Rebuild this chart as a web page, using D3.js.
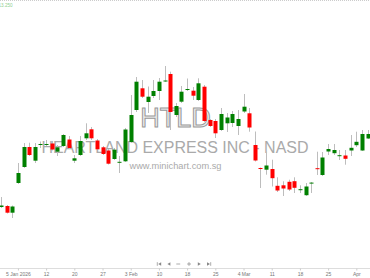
<!DOCTYPE html>
<html>
<head>
<meta charset="utf-8">
<script src="https://cdn.jsdelivr.net/npm/d3@7"></script>
<style>
    body { margin: 0; background: #fff; }
    #chartDiv { width: 370px; height: 278px; }
    .axis text { font-family: "Liberation Sans", Arial, sans-serif; font-size: 5px; fill: #777; }
    .axis line { stroke: #ccc; }
    .axis path { display: none; }
</style>
</head>
<body>
<div id="chartDiv"></div>
<script>

// trading days shown
let dates = ["2025-12-30","2025-12-31","2026-01-02","2026-01-05","2026-01-06","2026-01-07","2026-01-08","2026-01-09",
    "2026-01-12","2026-01-13","2026-01-14","2026-01-15","2026-01-16","2026-01-20","2026-01-21","2026-01-22","2026-01-23",
    "2026-01-26","2026-01-27","2026-01-28","2026-01-29","2026-01-30","2026-02-02","2026-02-03","2026-02-04","2026-02-05",
    "2026-02-06","2026-02-09","2026-02-10","2026-02-11","2026-02-12","2026-02-13","2026-02-17","2026-02-18","2026-02-19",
    "2026-02-20","2026-02-23","2026-02-24","2026-02-25","2026-02-26","2026-02-27","2026-03-02","2026-03-03","2026-03-04",
    "2026-03-05","2026-03-06","2026-03-09","2026-03-10","2026-03-11","2026-03-12","2026-03-13","2026-03-16","2026-03-17",
    "2026-03-18","2026-03-19","2026-03-20","2026-03-23","2026-03-24","2026-03-25","2026-03-26","2026-03-27","2026-03-30",
    "2026-03-31","2026-04-01","2026-04-02","2026-04-06"];

let open = [9.11,9.13,8.996,9.59,9.91,10.31,10.036,10.356,10.35,10.38,10.216,10.33,10.46,10.036,10.15,10.484,10.664,
    10.44,10.304,10.24,10.07,10.00,10.024,10.41,11.05,11.484,11.21,11.33,11.43,11.63,11.77,10.95,11.216,11.454,11.436,
    11.25,11.516,10.85,10.83,10.65,10.784,10.79,10.73,11.02,10.984,10.35,9.89,9.856,9.87,9.534,9.544,9.614,9.626,9.454,
    9.346,9.586,9.886,9.75,10.22,10.186,10.134,10.14,10.24,10.346,10.24,10.48];

let high = [9.31,9.15,9.14,9.99,10.39,10.396,10.39,10.42,10.45,10.43,10.35,10.57,10.53,10.15,10.53,10.784,10.71,
    10.47,10.33,10.27,10.29,10.13,10.69,11.35,11.71,11.65,11.52,11.65,11.69,11.93,11.816,11.19,11.53,11.68,11.51,
    11.684,11.55,10.87,10.87,11.09,10.99,11.03,11.05,11.37,11.09,10.62,9.90,10.22,10.056,9.704,9.624,9.656,9.704,9.544,
    9.59,9.61,10.216,10.21,10.37,10.37,10.25,10.25,10.55,10.616,10.65,10.65];

let low = [9.09,8.98,8.89,9.57,9.89,10.13,9.99,10.29,10.33,10.24,10.13,10.31,10.27,9.99,10.13,10.45,10.45,
    10.25,10.15,9.96,10.05,9.79,10.01,10.39,11.01,11.29,10.99,11.29,11.25,11.61,10.65,10.91,11.19,11.43,11.25,
    11.23,10.81,10.71,10.49,10.63,10.61,10.71,10.55,10.99,10.616,10.02,9.49,9.756,9.52,9.41,9.33,9.43,9.39,9.39,
    9.33,9.39,9.75,9.73,10.15,10.15,10.05,9.956,10.13,10.31,10.23,10.47];

let close = [9.14,8.996,9.12,9.79,10.31,10.15,10.31,10.37,10.37,10.26,10.304,10.55,10.29,10.084,10.43,10.584,10.484,
    10.264,10.17,9.976,10.256,10.014,10.66,10.95,11.616,11.316,11.316,11.43,11.616,11.64,11.01,11.13,11.416,11.47,11.336,
    11.584,10.83,10.73,10.584,10.97,10.90,10.97,10.87,11.116,10.70,10.04,9.874,9.94,9.686,9.44,9.48,9.46,9.494,9.466,
    9.52,9.598,9.874,10.10,10.27,10.25,10.146,10.074,10.294,10.414,10.57,10.57];

// x axis labels, one every 5 trading days
let tickDates = ["2026-01-05","2026-01-12","2026-01-20","2026-01-27","2026-02-03","2026-02-10","2026-02-18",
    "2026-02-25","2026-03-04","2026-03-11","2026-03-18","2026-03-25","2026-04-01"];
let tickLabels = ["5 Jan 2026","12","20","27","3 Feb","10","18","25","4 Mar","11","18","25","Apr"];

let topPrice = 13.25;
let topLabel = "13.250";

class CandleChart {
    constructor(parentElement) {
        this.parentElement = parentElement;
        this.candles = [];
        this.initVis();
    }

    initVis() {
        let vis = this;

        vis.width = 370;
        vis.height = 278;
        vis.axisY = 268.5;

        vis.svg = d3.select("#" + vis.parentElement).append("svg")
            .attr("width", vis.width)
            .attr("height", vis.height)
            .style("display", "block");

        vis.font = '"Liberation Sans", Arial, sans-serif';

        // dotted top border
        vis.svg.append("line")
            .attr("x1", 0).attr("x2", vis.width)
            .attr("y1", 0.5).attr("y2", 0.5)
            .attr("stroke", "#ccc")
            .attr("stroke-dasharray", "1,1");

        // price at top of chart
        vis.svg.append("text")
            .attr("x", -1.5)
            .attr("y", 7)
            .attr("font-family", vis.font)
            .attr("font-size", "4.6px")
            .attr("fill", "#8fcf8f")
            .text(topLabel);

        // Watermark
        vis.mark = vis.svg.append("g")
            .attr("font-family", vis.font)
            .attr("text-anchor", "middle");

        vis.mark.append("text")
            .attr("x", 175.5)
            .attr("y", 126.5)
            .attr("font-size", "27px")
            .attr("fill", "#eee")
            .attr("stroke", "#999")
            .attr("stroke-width", 1)
            .text("HTLD");

        vis.mark.append("text")
            .attr("x", 175)
            .attr("y", 153.3)
            .attr("font-size", "16px")
            .attr("fill", "#aaa")
            .attr("textLength", 267)
            .attr("lengthAdjust", "spacingAndGlyphs")
            .text("HEARTLAND EXPRESS INC - NASD");

        vis.mark.append("text")
            .attr("x", 175.5)
            .attr("y", 168.5)
            .attr("font-size", "9.5px")
            .attr("fill", "#aaa")
            .attr("textLength", 92)
            .attr("lengthAdjust", "spacingAndGlyphs")
            .text("www.minichart.com.sg");

        // Scales
        vis.x = d3.scalePoint()
            .domain(dates)
            .range([1, 367.6]);

        vis.y = d3.scaleLinear()
            .domain([topPrice - vis.axisY / 50, topPrice])
            .range([vis.axisY, 0]);

        vis.xAxis = d3.axisBottom()
            .scale(vis.x)
            .tickValues(tickDates)
            .tickSize(2)
            .tickPadding(1.5)
            .tickFormat(d => tickLabels[tickDates.indexOf(d)]);

        vis.svg.append("line")
            .attr("x1", 0).attr("x2", vis.width)
            .attr("y1", vis.axisY).attr("y2", vis.axisY)
            .attr("stroke", "#ddd");

        vis.svg.append("g")
            .attr("class", "x-axis axis")
            .attr("transform", "translate(0," + vis.axisY + ")");

        vis.candleGroup = vis.svg.append("g");

        vis.drawNav();
        vis.wrangleData();
    }

    drawNav() {
        let vis = this;
        let nav = vis.svg.append("g")
            .attr("transform", "translate(0,264)")
            .attr("fill", "#888")
            .attr("stroke", "#888")
            .attr("stroke-width", 0.7);

        // first
        nav.append("line").attr("x1", 157.3).attr("x2", 157.3).attr("y1", -1.8).attr("y2", 1.8);
        nav.append("path").attr("d", "M161.2,-1.8 L158.2,0 L161.2,1.8Z").attr("stroke", "none");
        // previous
        nav.append("path").attr("d", "M170.4,-1.8 L167.4,0 L170.4,1.8Z").attr("stroke", "none");
        // zoom out
        nav.append("line").attr("x1", 176.3).attr("x2", 180.2).attr("y1", 0).attr("y2", 0);
        // zoom in
        nav.append("line").attr("x1", 187.1).attr("x2", 191).attr("y1", 0).attr("y2", 0);
        nav.append("line").attr("x1", 189).attr("x2", 189).attr("y1", -1.9).attr("y2", 1.9);
        // next
        nav.append("path").attr("d", "M197.8,-1.8 L200.8,0 L197.8,1.8Z").attr("stroke", "none");
        // last
        nav.append("path").attr("d", "M207,-1.8 L210,0 L207,1.8Z").attr("stroke", "none");
        nav.append("line").attr("x1", 210.7).attr("x2", 210.7).attr("y1", -1.8).attr("y2", 1.8);
    }

    wrangleData() {
        let vis = this;
        vis.candles = dates.map((d, i) => ({
            date: d,
            open: open[i],
            high: high[i],
            low: low[i],
            close: close[i],
            up: close[i] >= open[i]
        }));
        vis.updateVis();
    }

    updateVis() {
        let vis = this;
        let bodyWidth = 4;

        vis.svg.select(".x-axis").call(vis.xAxis);

        let candle = vis.candleGroup.selectAll(".candle")
            .data(vis.candles)
            .enter()
            .append("g")
            .attr("class", "candle");

        // wicks
        candle.append("line")
            .attr("x1", d => Math.round(vis.x(d.date)) + 0.5)
            .attr("x2", d => Math.round(vis.x(d.date)) + 0.5)
            .attr("y1", d => vis.y(d.high))
            .attr("y2", d => vis.y(d.low))
            .attr("stroke", "#bdbdbd")
            .attr("stroke-width", 1);

        // bodies
        candle.append("rect")
            .attr("x", d => Math.round(vis.x(d.date)) + 0.5 - bodyWidth / 2)
            .attr("y", d => vis.y(Math.max(d.open, d.close)))
            .attr("width", bodyWidth)
            .attr("height", d => Math.max(1, Math.abs(vis.y(d.open) - vis.y(d.close))))
            .attr("fill", d => d.up ? "#008000" : "#ff0000");
    }
}

let chart = new CandleChart("chartDiv");
</script>
</body>
</html>
